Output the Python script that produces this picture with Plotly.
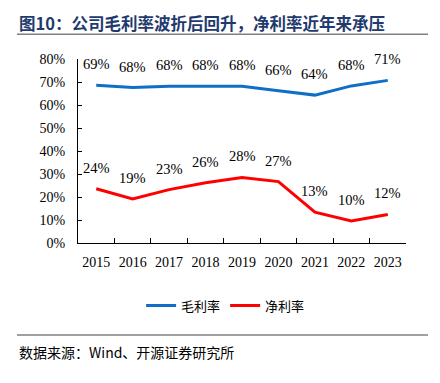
import plotly.graph_objects as go

years = ["2015", "2016", "2017", "2018", "2019", "2020", "2021", "2022", "2023"]
gross_margin = [68.6, 67.6, 68.2, 68.3, 68.1, 66.2, 64.3, 68.3, 70.7]
net_margin = [23.6, 19.2, 23.2, 26.2, 28.5, 26.7, 13.4, 9.6, 12.4]
gross_labels = ["69%", "68%", "68%", "68%", "68%", "66%", "64%", "68%", "71%"]
net_labels = ["24%", "19%", "23%", "26%", "28%", "27%", "13%", "10%", "12%"]
y_ticks = [0, 10, 20, 30, 40, 50, 60, 70, 80]
y_tick_text = [f"{v}%" for v in y_ticks]

serif = "Liberation Serif, Times New Roman, serif"
cjk = "Noto Sans CJK SC"

fig = go.Figure()
fig.add_trace(go.Scatter(
    x=years, y=gross_margin, mode="lines", name="毛利率",
    line=dict(color="#0F6FC6", width=3),
))
fig.add_trace(go.Scatter(
    x=years, y=net_margin, mode="lines", name="净利率",
    line=dict(color="#FF0000", width=3),
))

annotations = []
for series, labels in ((gross_margin, gross_labels), (net_margin, net_labels)):
    for i, (v, lab) in enumerate(zip(series, labels)):
        annotations.append(dict(
            x=i, y=v, xref="x", yref="y", text=lab, showarrow=False,
            yshift=21, font=dict(family=serif, size=14.5, color="#000000"),
        ))

annotations += [
    dict(text="<b>图10：公司毛利率波折后回升，净利率近年来承压</b>", xref="paper", yref="paper",
         x=-0.186, y=1.272, xanchor="left", yanchor="top", showarrow=False,
         font=dict(family=cjk, size=16.5, color="#1F3A6E")),
    dict(text="数据来源：Wind、开源证券研究所", xref="paper", yref="paper",
         x=-0.186, y=-0.594, xanchor="left", yanchor="middle", showarrow=False,
         font=dict(family=cjk, size=14, color="#000000")),
]

fig.update_layout(
    width=440, height=383,
    margin=dict(l=70, r=42, t=51, b=148, autoexpand=False),
    paper_bgcolor="white", plot_bgcolor="white",
    showlegend=True,
    legend=dict(orientation="h", x=0.45, xanchor="center", y=-0.34, yanchor="middle",
                font=dict(family=cjk, size=13, color="#000000"),
                itemwidth=30, traceorder="normal"),
    xaxis=dict(type="category", range=[-0.5, 8.5], showgrid=False, showline=True,
               linecolor="#000000", linewidth=1,
               ticks="inside", tickson="boundaries", ticklen=5, tickcolor="#000000",
               tickangle=0, automargin=False, ticklabelstandoff=6,
               tickfont=dict(family=serif, size=14, color="#000000"), mirror=False),
    yaxis=dict(range=[0, 80], tickvals=y_ticks, ticktext=y_tick_text, showgrid=False,
               showline=True, linecolor="#000000", linewidth=1, ticks="inside", ticklen=4,
               tickcolor="#000000", zeroline=False, automargin=False, ticklabelstandoff=9,
               tickfont=dict(family=serif, size=14, color="#000000")),
    annotations=annotations,
    shapes=[
        dict(type="line", xref="paper", yref="paper", x0=-0.186, x1=1.067, y0=1.134, y1=1.134,
             line=dict(color="#808080", width=1.5)),
        dict(type="line", xref="paper", yref="paper", x0=-0.186, x1=1.067, y0=-0.50, y1=-0.50,
             line=dict(color="#808080", width=1.5)),
    ],
)

fig.write_html("out.html")
